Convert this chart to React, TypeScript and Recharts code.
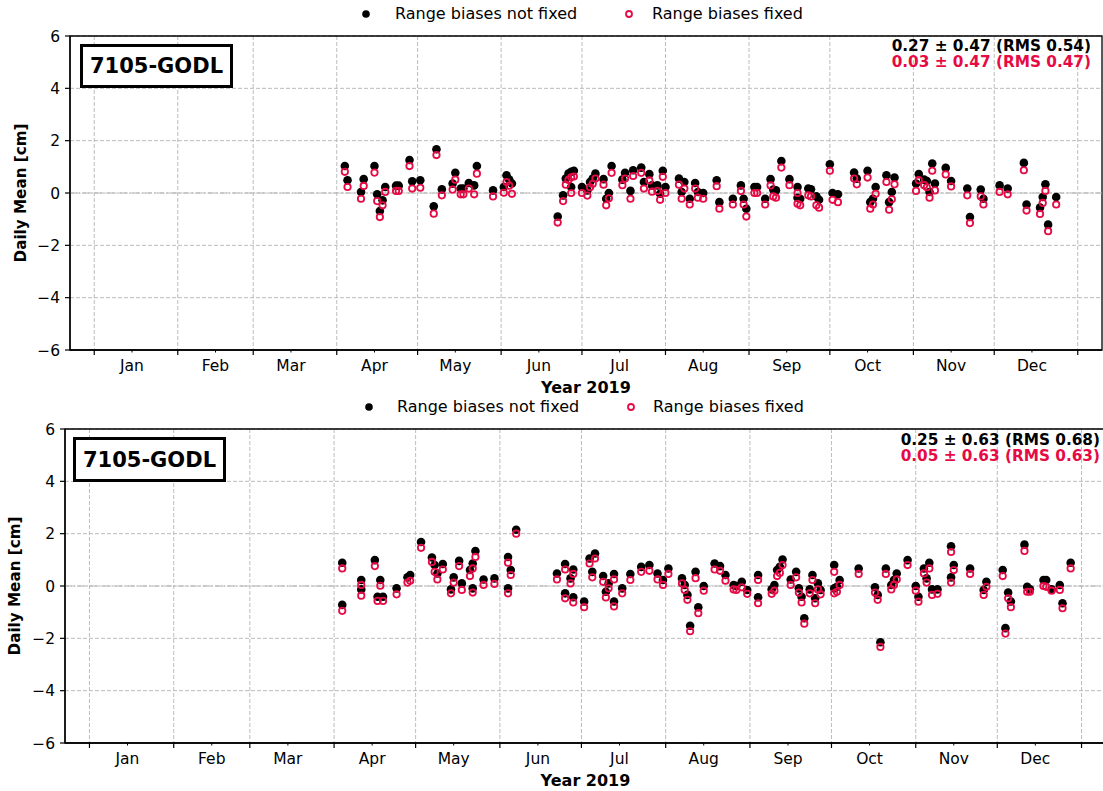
import React from "react";
import {
  ScatterChart,
  Scatter,
  XAxis,
  YAxis,
  CartesianGrid,
  ReferenceLine,
  ReferenceArea,
} from "recharts";

// ---------- axis definitions ----------
const monthStarts = [0, 31, 59, 90, 120, 151, 181, 212, 243, 273, 304, 334, 365];
const monthMids = [14, 45, 73, 104, 134, 165, 195, 226, 257, 287, 318, 348];
const monthNames = ["Jan", "Feb", "Mar", "Apr", "May", "Jun", "Jul", "Aug", "Sep", "Oct", "Nov", "Dec"];
const yTicks = [-6, -4, -2, 0, 2, 4, 6];
const xDomain = [-9, 374];
const allXTicks = [...monthStarts, ...monthMids].sort((a, b) => a - b);

// ---------- top panel data (day of year 2019, daily mean cm) ----------
const topDays = [
  93, 94, 99, 100, 104, 105, 106, 107, 108, 112, 113, 117, 118, 121, 126, 127, 129, 133, 134, 136,
  137, 139, 141, 142, 148, 152, 153, 154, 155, 172, 174, 175, 176, 177, 177, 178, 181, 183, 184, 185,
  186, 189, 190, 191, 192, 196, 197, 199, 200, 203, 204, 206, 207, 209, 210, 211, 212, 217, 218, 219,
  221, 223, 224, 226, 231, 232, 237, 240, 241, 242, 245, 246, 249, 251, 252, 253, 255, 258, 261, 261,
  262, 265, 266, 268, 269, 273, 274, 276, 282, 283, 287, 288, 289, 290, 294, 295, 296, 297, 305, 306,
  308, 309, 310, 311, 312, 316, 318, 324, 325, 329, 330, 336, 339, 345, 346, 351, 352, 353, 354, 357,
];
const topNotFixed = [
  1.03, 0.49, 0.04, 0.53, 1.03, -0.05, -0.69, -0.28, 0.23, 0.28, 0.28, 1.26, 0.45, 0.49, -0.51, 1.67, 0.14, 0.36, 0.77, 0.17,
  0.17, 0.38, 0.29, 1.03, 0.1, 0.23, 0.68, 0.51, 0.36, -0.9, -0.09, 0.55, 0.74, 0.23, 0.81, 0.85, 0.23, 0.1, 0.42, 0.55,
  0.74, 0.53, -0.22, 0.0, 1.03, 0.51, 0.77, 0.08, 0.87, 0.97, 0.42, 0.72, 0.29, 0.29, -0.03, 0.85, 0.23, 0.55, 0.04, 0.42,
  -0.22, 0.38, 0.04, 0.0, 0.49, -0.35, -0.22, 0.29, -0.22, -0.6, 0.23, 0.23, -0.22, 0.53, 0.13, 0.1, 1.22, 0.53, 0.23, -0.18,
  -0.22, 0.17, 0.14, -0.13, -0.26, 1.1, 0.0, -0.05, 0.78, 0.55, 0.85, -0.35, -0.22, 0.23, 0.68, -0.35, 0.04, 0.59, 0.36, 0.72,
  0.51, 0.46, 0.04, 1.13, 0.36, 0.96, 0.46, 0.17, -0.92, 0.13, -0.22, 0.29, 0.17, 1.15, -0.44, -0.56, -0.15, 0.33, -1.21, -0.15,
];
const topFixed = [
  0.81, 0.23, -0.22, 0.27, 0.78, -0.31, -0.92, -0.47, 0.04, 0.08, 0.08, 1.03, 0.17, 0.2, -0.79, 1.45, -0.09, 0.13, 0.51, -0.05,
  -0.05, 0.17, -0.05, 0.74, -0.13, 0.01, 0.42, 0.28, -0.03, -1.13, -0.31, 0.32, 0.5, 0.0, 0.6, 0.63, 0.0, -0.1, 0.22, 0.35,
  0.55, 0.32, -0.47, -0.2, 0.77, 0.3, 0.55, -0.22, 0.65, 0.77, 0.17, 0.48, 0.05, 0.08, -0.26, 0.62, 0.0, 0.32, -0.22, 0.17,
  -0.44, 0.17, -0.18, -0.22, 0.26, -0.6, -0.44, 0.08, -0.44, -0.9, 0.0, 0.0, -0.44, 0.29, -0.13, -0.18, 0.97, 0.3, 0.0, -0.41,
  -0.47, -0.09, -0.13, -0.47, -0.56, 0.85, -0.26, -0.35, 0.55, 0.33, 0.59, -0.6, -0.44, -0.03, 0.42, -0.64, -0.24, 0.33, 0.08, 0.49,
  0.3, 0.22, -0.18, 0.85, 0.1, 0.71, 0.25, -0.09, -1.15, -0.13, -0.44, 0.04, -0.05, 0.87, -0.67, -0.8, -0.38, 0.08, -1.46, -0.44,
];

// ---------- bottom panel data ----------
const botDays = [
  93, 93, 100, 100, 105, 106, 107, 108, 113, 117, 118, 122, 126, 127, 128, 130, 133, 134, 136, 137,
  140, 141, 141, 142, 145, 149, 154, 154, 155, 157, 172, 175, 175, 177, 178, 178, 182, 184, 185, 186,
  189, 190, 191, 193, 193, 196, 199, 203, 206, 209, 211, 213, 218, 219, 220, 221, 223, 224, 226, 230,
  232, 234, 237, 238, 240, 242, 246, 246, 251, 252, 253, 254, 255, 258, 260, 261, 262, 263, 265, 266,
  267, 268, 269, 274, 274, 275, 276, 283, 289, 290, 291, 293, 295, 296, 297, 301, 304, 305, 307, 308,
  309, 310, 312, 317, 317, 318, 324, 329, 330, 336, 337, 338, 339, 344, 345, 346, 351, 352, 354, 357,
  358, 361,
];
const botNotFixed = [
  0.89, -0.72, 0.23, -0.13, 0.99, -0.41, 0.23, -0.41, -0.09, 0.33, 0.42, 1.68, 1.09, 0.8, 0.48, 0.84, -0.13, 0.33, 0.96, 0.1,
  0.61, -0.09, 0.86, 1.34, 0.25, 0.29, 1.11, -0.09, 0.61, 2.15, 0.48, -0.28, 0.84, 0.29, -0.43, 0.63, -0.59, 1.05, 0.54, 1.24,
  0.38, -0.22, 0.1, 0.46, -0.59, -0.09, 0.46, 0.73, 0.8, 0.48, 0.23, 0.67, 0.29, 0.04, -0.34, -1.52, 0.54, -0.81, 0.0, 0.86,
  0.76, 0.42, 0.04, 0.0, 0.16, -0.15, 0.42, -0.43, -0.13, 0.04, 0.61, 0.73, 1.01, 0.25, 0.54, -0.09, -0.41, -1.23, -0.13, 0.42,
  -0.47, 0.1, -0.15, 0.8, -0.09, -0.03, 0.23, 0.67, -0.05, -0.34, -2.15, 0.67, 0.04, 0.23, 0.48, 0.99, 0.0, -0.41, 0.67, 0.29,
  0.89, -0.13, -0.13, 1.52, 0.33, 0.8, 0.67, -0.15, 0.16, 0.61, -1.61, -0.25, -0.59, 1.58, -0.03, -0.13, 0.23, 0.23, -0.13, 0.04,
  -0.66, 0.89,
];
const botFixed = [
  0.67, -0.95, 0.04, -0.37, 0.76, -0.57, 0.01, -0.57, -0.32, 0.13, 0.2, 1.46, 0.92, 0.54, 0.25, 0.63, -0.28, 0.13, 0.76, -0.15,
  0.38, -0.25, 0.67, 1.11, 0.04, 0.08, 0.89, -0.28, 0.42, 2.0, 0.25, -0.47, 0.63, 0.1, -0.63, 0.46, -0.81, 0.86, 0.33, 1.05,
  0.16, -0.44, -0.09, 0.25, -0.78, -0.28, 0.23, 0.54, 0.58, 0.25, 0.04, 0.46, 0.1, -0.15, -0.53, -1.73, 0.3, -1.04, -0.18, 0.63,
  0.58, 0.2, -0.13, -0.15, -0.05, -0.3, 0.23, -0.66, -0.3, -0.18, 0.38, 0.5, 0.8, 0.04, 0.33, -0.25, -0.63, -1.44, -0.28, 0.23,
  -0.66, -0.13, -0.32, 0.54, -0.28, -0.22, 0.04, 0.46, -0.25, -0.53, -2.33, 0.46, -0.13, 0.04, 0.25, 0.8, -0.18, -0.6, 0.48, 0.13,
  0.67, -0.34, -0.3, 1.3, 0.13, 0.61, 0.46, -0.34, -0.03, 0.38, -1.82, -0.47, -0.81, 1.34, -0.22, -0.22, 0.0, -0.03, -0.18, -0.15,
  -0.85, 0.67,
];

const stationName = "7105-GODL";
const topStats = ["0.27 \u00b1 0.47 (RMS 0.54)", "0.03 \u00b1 0.47 (RMS 0.47)"];
const botStats = ["0.25 \u00b1 0.63 (RMS 0.68)", "0.05 \u00b1 0.63 (RMS 0.63)"];
const seriesNames = ["Range biases not fixed", "Range biases fixed"];
const xLabel = "Year 2019";
const yLabel = "Daily Mean [cm]";

// ---------- styling ----------
const FONT = "'DejaVu Sans', sans-serif";
const RED = "#e60a45";
const GRID = "#b4b4b4";

const fmtY = (v: number) => (v < 0 ? "\u2212" + Math.abs(v) : String(v));

const BlackDot = (p: any) => <circle cx={p.cx} cy={p.cy} r={4.3} fill="#000" />;
const RedRing = (p: any) => (
  <circle cx={p.cx} cy={p.cy} r={3.2} fill="none" stroke={RED} strokeWidth={1.8} />
);

// month-start ticks are long marks; mid-month ticks are short marks carrying the month name
const MonthTick = (props: any) => {
  const { x, y, payload } = props;
  const v = payload.value;
  const mi = monthMids.indexOf(v);
  if (mi < 0) {
    return <line x1={x} x2={x} y1={y} y2={y + 5} stroke="#000" strokeWidth={1.2} />;
  }
  return (
    <g>
      <line x1={x} x2={x} y1={y} y2={y + 2.5} stroke="#000" strokeWidth={1} />
      <text x={x} y={y + 9.5} dy="0.71em" textAnchor="middle" fontSize={15.5} fontFamily={FONT} fill="#000">
        {monthNames[mi]}
      </text>
    </g>
  );
};

type PanelProps = {
  top: number;
  days: number[];
  notFixed: number[];
  fixed: number[];
  stats: string[];
  yAxisWidth: number;
  chartWidth: number;
  ylabelX: number;
  box: { left: number; top: number; width: number; height: number };
  statsRight: number;
  statsTop: number;
  legendDot: number;
  legendText1: number;
  legendRing: number;
  legendText2: number;
};

function Panel(p: PanelProps) {
  const nf = p.days.map((d, i) => ({ day: d, v: p.notFixed[i] }));
  const fx = p.days.map((d, i) => ({ day: d, v: p.fixed[i] }));
  const H = 402;
  return (
    <div style={{ position: "absolute", left: 0, top: p.top, width: 1103, height: H, overflow: "hidden" }}>
      {/* legend */}
      <svg style={{ position: "absolute", left: p.legendDot - 6, top: 8 }} width={12} height={12}>
        <circle cx={6} cy={6} r={3.8} fill="#000" />
      </svg>
      <div style={{ position: "absolute", left: p.legendText1, top: 5, fontSize: 16, lineHeight: "18px", whiteSpace: "nowrap" }}>
        {seriesNames[0]}
      </div>
      <svg style={{ position: "absolute", left: p.legendRing - 6, top: 8 }} width={12} height={12}>
        <circle cx={6} cy={6} r={3} fill="none" stroke={RED} strokeWidth={1.8} />
      </svg>
      <div style={{ position: "absolute", left: p.legendText2, top: 5, fontSize: 16, lineHeight: "18px", whiteSpace: "nowrap" }}>
        {seriesNames[1]}
      </div>

      <ScatterChart
        width={p.chartWidth}
        height={H}
        margin={{ top: 36, right: 1, bottom: 7, left: 0 }}
        style={{ position: "absolute", left: 0, top: 0 }}
      >
        <CartesianGrid
          stroke={GRID}
          strokeWidth={0.9}
          strokeDasharray="4 2"
          verticalValues={monthStarts}
          horizontalValues={yTicks}
        />
        <ReferenceLine y={0} stroke={GRID} strokeWidth={1} strokeDasharray="7 2 1.5 2" />
        <XAxis
          dataKey="day"
          type="number"
          scale="linear"
          domain={xDomain}
          allowDataOverflow
          ticks={allXTicks}
          interval={0}
          height={45}
          tick={<MonthTick />}
          tickSize={0}
          tickMargin={0}
          tickLine={false}
          axisLine={{ stroke: "#000", strokeWidth: 1.3 }}
          label={{ value: xLabel, position: "insideBottom", offset: 2, fill: "#000", fontSize: 16, fontWeight: "bold", fontFamily: FONT }}
        />
        <YAxis
          dataKey="v"
          type="number"
          domain={[-6, 6]}
          ticks={yTicks}
          interval={0}
          width={p.yAxisWidth}
          allowDataOverflow
          tickFormatter={fmtY}
          tickSize={5}
          tickMargin={5}
          tickLine={{ stroke: "#000", strokeWidth: 1.2 }}
          axisLine={{ stroke: "#000", strokeWidth: 1.3 }}
          tick={{ fill: "#000", fontSize: 15.5, fontFamily: FONT }}
          label={{
            content: (lp: any) => {
              const vb = lp.viewBox || { x: 0, y: 36, height: 314 };
              const cx = vb.x + p.ylabelX;
              const cy = vb.y + vb.height / 2;
              return (
                <text
                  x={cx}
                  y={cy}
                  transform={`rotate(-90 ${cx} ${cy})`}
                  textAnchor="middle"
                  dominantBaseline="central"
                  fontSize={15.2}
                  fontWeight="bold"
                  fontFamily={FONT}
                  fill="#000"
                >
                  {yLabel}
                </text>
              );
            },
          }}
        />
        <Scatter name={seriesNames[0]} data={nf} shape={BlackDot} isAnimationActive={false} />
        <Scatter name={seriesNames[1]} data={fx} shape={RedRing} isAnimationActive={false} />
        <ReferenceArea
          x1={xDomain[0]}
          x2={xDomain[1]}
          y1={-6}
          y2={6}
          fill="none"
          fillOpacity={0}
          stroke="#000"
          strokeWidth={1.3}
          ifOverflow="visible"
        />
      </ScatterChart>

      {/* station box */}
      <div
        style={{
          position: "absolute",
          left: p.box.left,
          top: p.box.top,
          width: p.box.width,
          height: p.box.height,
          boxSizing: "border-box",
          border: "3.5px solid #000",
          background: "#fff",
          display: "flex",
          alignItems: "center",
          justifyContent: "center",
          fontSize: 21,
          fontWeight: "bold",
        }}
      >
        {stationName}
      </div>

      {/* statistics */}
      <div
        style={{
          position: "absolute",
          right: 1103 - p.statsRight,
          top: p.statsTop,
          textAlign: "right",
          fontSize: 15.3,
          fontWeight: "bold",
          whiteSpace: "nowrap",
        }}
      >
        <div style={{ color: "#000", height: 16, lineHeight: "16px" }}>{p.stats[0]}</div>
        <div style={{ color: RED, height: 16, lineHeight: "16px" }}>{p.stats[1]}</div>
      </div>
    </div>
  );
}

export default function App() {
  return (
    <div
      style={{
        position: "absolute",
        left: 0,
        top: 0,
        width: 1103,
        height: 791,
        overflow: "hidden",
        background: "#fff",
        fontFamily: FONT,
        color: "#000",
      }}
    >
      <Panel
        top={0}
        days={topDays}
        notFixed={topNotFixed}
        fixed={topFixed}
        stats={topStats}
        yAxisWidth={70}
        chartWidth={1103}
        ylabelX={21}
        box={{ left: 80, top: 44, width: 153, height: 44 }}
        statsRight={1091}
        statsTop={38}
        legendDot={366}
        legendText1={395}
        legendRing={629}
        legendText2={652}
      />
      <Panel
        top={393}
        days={botDays}
        notFixed={botNotFixed}
        fixed={botFixed}
        stats={botStats}
        yAxisWidth={65}
        chartWidth={1107}
        ylabelX={15}
        box={{ left: 73, top: 44, width: 153, height: 45 }}
        statsRight={1100}
        statsTop={39}
        legendDot={369}
        legendText1={397}
        legendRing={631}
        legendText2={653}
      />
    </div>
  );
}
